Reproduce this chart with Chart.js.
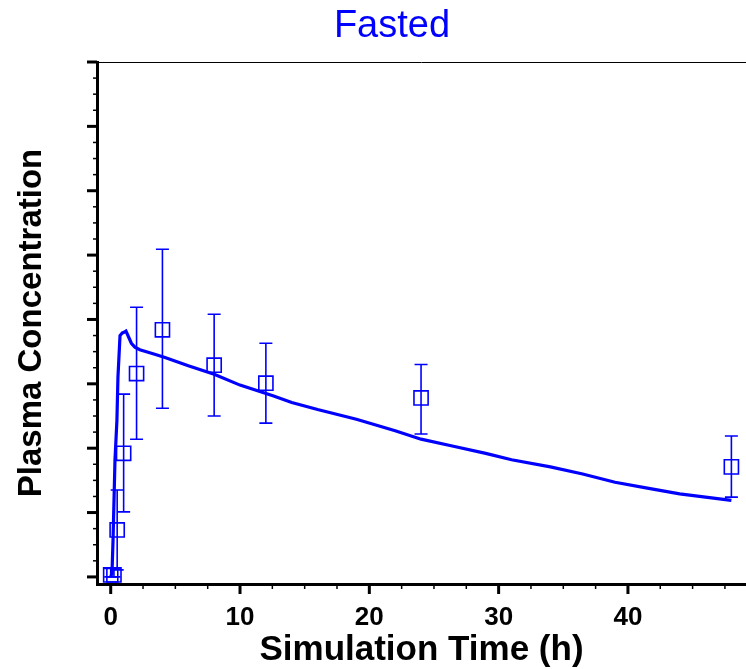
<!DOCTYPE html>
<html>
<head>
<meta charset="utf-8">
<script src="https://cdn.jsdelivr.net/npm/chart.js@4.4.0/dist/chart.umd.min.js"></script>
<style>
  body { margin: 0; background: #fff; }
  #wrap { position: relative; width: 746px; height: 669px; overflow: hidden; }
  #title {
    position: absolute; left: 0; top: 3px; width: 784px; line-height: 52px;
    text-align: center; font: 38px 'Liberation Sans', Arial, sans-serif; color: #0000ff;
  }
  canvas { position: absolute; left: 0; top: 0; }
</style>
</head>
<body>
<div id="wrap">
  <canvas id="pkChart" width="746" height="669"></canvas>
  <div id="title">Fasted</div>
</div>
<script>
// simulated profile (h, arbitrary concentration units)
const simTime = [0, 0.1, 0.18, 0.33, 0.48, 0.56, 0.72, 0.9, 1.03, 1.18, 1.4, 1.6, 1.87, 2.25, 3.4, 4.2, 6, 8, 10, 12.6, 14, 16, 19, 22, 24, 26.5, 29, 31, 34, 36.5, 39, 41.5, 44, 46, 48];
const simConc = [0, 0.06, 0.57, 1.81, 2.43, 3.1, 3.75, 3.79, 3.8, 3.82, 3.72, 3.63, 3.57, 3.53, 3.46, 3.41, 3.28, 3.15, 2.98, 2.81, 2.71, 2.6, 2.45, 2.27, 2.14, 2.03, 1.92, 1.82, 1.71, 1.6, 1.47, 1.38, 1.29, 1.24, 1.19];

// observed data with error bars
const obsTime = [0, 0.25, 0.5, 1, 2, 4, 8, 12, 24, 48];
const obsConc = [0.03, 0.03, 0.73, 1.92, 3.16, 3.84, 3.29, 3.01, 2.78, 1.71];
const obsLow  = [0, 0, 0.11, 1.01, 2.14, 2.62, 2.50, 2.39, 2.22, 1.24];
const obsHigh = [0.13, 0.14, 1.35, 2.84, 4.19, 5.09, 4.08, 3.63, 3.30, 2.19];

const xTickLabels = [0, 10, 20, 30, 40];

const blue = '#0000ff';
const font = "'Liberation Sans', Arial, sans-serif";

const errorBars = {
  id: 'errorBars',
  afterDatasetsDraw(chart) {
    const { ctx, scales: { x, y } } = chart;
    ctx.save();
    ctx.strokeStyle = blue;
    ctx.lineWidth = 1.6;
    obsTime.forEach((t, i) => {
      const px = x.getPixelForValue(t);
      const top = y.getPixelForValue(obsHigh[i]);
      const bot = y.getPixelForValue(obsLow[i]);
      ctx.beginPath();
      ctx.moveTo(px, top); ctx.lineTo(px, bot);
      ctx.moveTo(px - 6.5, top); ctx.lineTo(px + 6.5, top);
      ctx.moveTo(px - 6.5, bot); ctx.lineTo(px + 6.5, bot);
      ctx.stroke();
    });
    ctx.restore();
  }
};

const tickMarks = {
  id: 'tickMarks',
  afterDraw(chart) {
    const { ctx, chartArea: a, scales: { x, y } } = chart;
    ctx.save();
    ctx.strokeStyle = '#000';
    // top frame line
    ctx.lineWidth = 1;
    ctx.beginPath();
    ctx.moveTo(a.left, a.top + 0.5); ctx.lineTo(a.right, a.top + 0.5);
    ctx.stroke();
    for (let v = 0; v <= x.max; v += 2.5) {
      const px = x.getPixelForValue(v);
      const major = v % 10 === 0;
      ctx.lineWidth = major ? 3 : 1.5;
      ctx.beginPath();
      ctx.moveTo(px, a.bottom); ctx.lineTo(px, a.bottom + (major ? 10 : 5));
      ctx.stroke();
    }
    for (let v = 0; v <= 8.001; v += 0.25) {
      const py = y.getPixelForValue(v);
      const major = Math.abs(v - Math.round(v)) < 1e-6;
      ctx.lineWidth = major ? 3 : 1.5;
      ctx.beginPath();
      ctx.moveTo(a.left, py); ctx.lineTo(a.left - (major ? 10 : 4), py);
      ctx.stroke();
    }
    ctx.restore();
  }
};

new Chart(document.getElementById('pkChart'), {
  type: 'scatter',
  data: {
    datasets: [
      {
        label: 'Observed',
        data: obsTime.map((t, i) => ({ x: t, y: obsConc[i] })),
        pointStyle: 'rect',
        pointRadius: 10,
        borderColor: blue,
        borderWidth: 1.6,
        backgroundColor: 'rgba(0,0,0,0)',
        showLine: false,
        clip: false
      },
      {
        label: 'Simulated',
        data: simTime.map((t, i) => ({ x: t, y: simConc[i] })),
        showLine: true,
        borderColor: blue,
        borderWidth: 3.2,
        pointRadius: 0,
        tension: 0
      }
    ]
  },
  options: {
    responsive: false,
    animation: false,
    layout: { autoPadding: false, padding: { top: 62, right: 0, left: 0, bottom: 0 } },
    plugins: { legend: { display: false }, tooltip: { enabled: false } },
    scales: {
      x: {
        type: 'linear',
        min: -1.06,
        max: 49.13,
        grid: { display: false, drawTicks: false },
        border: { color: '#000', width: 3 },
        afterBuildTicks: s => { s.ticks = xTickLabels.map(v => ({ value: v })); },
        afterFit: s => { s.height = 85; },
        ticks: {
          color: '#000',
          padding: 18,
          maxRotation: 0,
          font: { family: font, size: 26, weight: 'bold' }
        },
        title: {
          display: true,
          text: 'Simulation Time (h)',
          color: '#000',
          padding: { top: 0, bottom: -2 },
          font: { family: font, size: 35, weight: 'bold' }
        }
      },
      y: {
        type: 'linear',
        min: -0.11,
        max: 8,
        grid: { display: false, drawTicks: false },
        border: { color: '#000', width: 3 },
        ticks: { display: false },
        afterFit: s => { s.width = 97; },
        title: {
          display: true,
          text: 'Plasma Concentration',
          color: '#000',
          padding: { top: 12, bottom: 0 },
          font: { family: font, size: 33, weight: 'bold' }
        }
      }
    }
  },
  plugins: [errorBars, tickMarks]
});
</script>
</body>
</html>
